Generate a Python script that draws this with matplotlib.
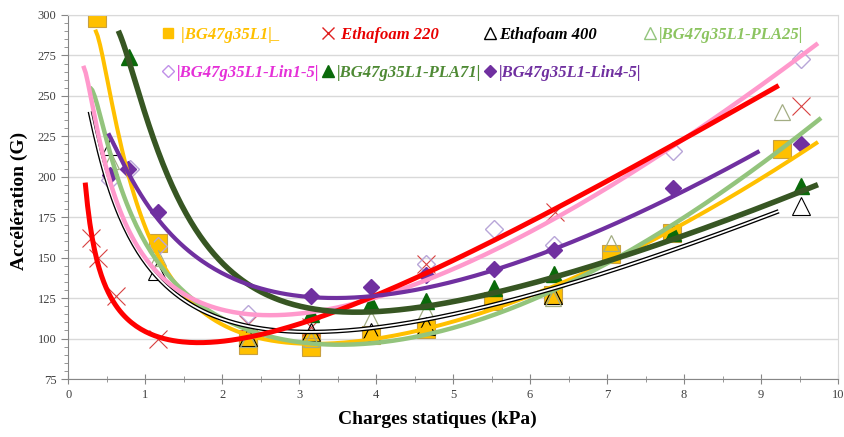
import numpy as np
import matplotlib.pyplot as plt
from matplotlib.lines import Line2D
from matplotlib.ticker import MultipleLocator

# measured points (static load kPa, acceleration G)
bg_x = [0.37, 1.17, 2.33, 2.33, 3.15, 3.15, 3.93, 4.65, 5.52, 6.30, 7.05, 7.85, 9.27]
bg_y = [298, 159, 100, 96, 98, 95, 102, 106, 123, 127, 152, 165, 217]
e220_x = [0.30, 0.38, 0.62, 1.17, 2.33, 3.15, 4.65, 6.32, 9.52]
e220_y = [162, 150, 126, 100, 109, 107, 146, 178, 244]
e400_x = [0.56, 1.15, 2.33, 3.15, 3.93, 4.65, 6.30, 9.52]
e400_y = [219, 142, 101, 104, 104, 108, 127, 182]
pla25_x = [0.56, 1.17, 2.33, 3.15, 3.93, 4.65, 6.30, 7.05, 9.27]
pla25_y = [210, 150, 100, 100, 112, 117, 125, 159, 240]
lin1_x = [0.54, 0.80, 1.17, 2.33, 4.65, 5.53, 6.31, 7.86, 9.52]
lin1_y = [198, 205, 157, 115, 146, 168, 158, 216, 273]
pla71_x = [0.79, 3.15, 3.93, 4.65, 5.53, 6.31, 7.86, 9.52]
pla71_y = [274, 115, 122, 123, 131, 140, 165, 194]
lin4_x = [0.54, 0.78, 1.17, 3.15, 3.93, 4.65, 5.53, 6.31, 7.86, 9.52]
lin4_y = [201, 205, 178, 126, 132, 139, 143, 155, 193, 220]

# trend curves
bg_tx = [0.35, 0.5, 0.65, 0.76, 0.87, 1.06, 1.3, 1.5, 2.0, 2.36, 3.0, 3.66, 4.31, 5.35, 6.0, 7.07, 7.86, 8.46, 8.9, 9.29, 9.74]
bg_ty = [292, 258, 227, 208, 188, 161, 140, 127, 108, 101, 96.5, 97.5, 103, 118, 128, 151, 165, 178, 193, 208, 227]
e220_tx = [0.22, 0.32, 0.45, 0.61, 0.89, 1.32, 1.71, 2.36, 3.0, 4.05, 4.31, 5.35, 6.39, 6.56, 8.72, 9.23]
e220_ty = [196, 161, 136, 120, 107, 100, 99, 101, 107, 127, 133, 159, 181, 186, 243, 256]
e400_tx = [0.28, 0.4, 0.52, 0.74, 1.06, 1.62, 2.0, 2.36, 3.0, 3.66, 4.31, 5.35, 6.56, 7.68, 8.72, 9.23]
e400_ty = [240, 216, 196, 167, 142, 123, 113, 107.5, 102.5, 103.5, 109, 120, 136, 151, 169, 179]
pla25_tx = [0.28, 0.4, 0.54, 0.7, 0.82, 1.0, 1.2, 1.5, 2.0, 2.5, 3.0, 3.5, 4.05, 5.35, 6.0, 7.07, 7.86, 8.46, 8.72, 9.29, 9.78]
pla25_ty = [257, 236, 215, 192, 180, 163, 145, 126, 108, 100, 97, 97.5, 102, 117, 127, 148.6, 162, 183, 193, 221, 245]
lin1_tx = [0.195, 0.32, 0.45, 0.6, 0.8, 1.06, 1.5, 2.0, 2.36, 3.0, 3.5, 4.13, 5.35, 6.39, 7.86, 8.72, 9.74]
lin1_ty = [269, 241, 214, 190, 166, 146, 127, 117, 113.5, 116, 119, 129, 153, 176, 217, 242, 287]
pla71_tx = [0.65, 0.79, 1.0, 1.2, 1.5, 1.75, 2.0, 2.36, 3.0, 3.66, 4.05, 4.31, 5.35, 6.39, 8.46, 8.72, 9.74]
pla71_ty = [290, 272, 238, 212, 180, 160, 147, 133, 121, 117, 116, 116.5, 127, 139, 172, 176, 195]
lin4_tx = [0.52, 0.7, 1.02, 1.15, 1.71, 2.36, 3.01, 3.66, 4.05, 4.31, 5.35, 6.39, 6.56, 8.72, 8.98]
lin4_ty = [228, 206, 186, 177, 147, 130, 126, 126, 129, 131, 138, 156, 159, 208, 217.6]

labels = [' |BG47g35L1|_', ' Ethafoam 220', 'Ethafoam 400', '|BG47g35L1-PLA25|',
          '|BG47g35L1-Lin1-5|', '|BG47g35L1-PLA71|', '|BG47g35L1-Lin4-5|']
text_colors = ['#FFC000', '#E80000', 'black', '#8CC460', '#E530D8', '#4F8A35', '#7030A0']


def trend(ax, tx, ty, color, lw, z, deg=5):
    # smooth trendline through the read curve, fitted in ln(x)
    lx = np.log(tx)
    c = np.polyfit(lx, ty, deg)
    xx = np.linspace(min(tx), max(tx), 300)
    ax.plot(xx, np.polyval(c, np.log(xx)), color=color, lw=lw, zorder=z,
            solid_capstyle='butt')
    return xx, np.polyval(c, np.log(xx))


fig = plt.figure(figsize=(8.45, 4.37), dpi=100)
ax = fig.add_axes([0.0808, 0.1327, 0.9109, 0.833])

# markers
ax.plot(bg_x, bg_y, 's', ms=13, mfc='#FFC000', mec='#C8A040', mew=0.8, zorder=2)
ax.plot(e220_x, e220_y, 'x', ms=13, color='#D84040', mew=0.8, zorder=2)
ax.plot(e400_x, e400_y, '^', ms=13, mfc='none', mec='black', mew=0.8, zorder=2)
ax.plot(pla25_x, pla25_y, '^', ms=12, mfc='none', mec='#A3AD84', mew=0.9, zorder=2)
ax.plot(lin1_x, lin1_y, 'D', ms=9, mfc='none', mec='#B8A6D8', mew=1.0, zorder=2)
ax.plot(pla71_x, pla71_y, '^', ms=11, color='#0A6A0A', zorder=2)
ax.plot(lin4_x, lin4_y, 'D', ms=8.5, color='#7030A0', zorder=2)

# trendlines
trend(ax, bg_tx, bg_ty, '#FFC000', 2.9, 3)
trend(ax, pla25_tx, pla25_ty, '#93C47D', 3.2, 3.1)
xx, yy = trend(ax, e400_tx, e400_ty, 'black', 3.2, 3.2)
ax.plot(xx, yy, color='white', lw=1.3, zorder=3.25)
trend(ax, lin1_tx, lin1_ty, '#FF99CC', 3.2, 3.3)
trend(ax, e220_tx, e220_ty, '#FF0000', 3.6, 3.4)
trend(ax, pla71_tx, pla71_ty, '#375623', 4.0, 3.5)
trend(ax, lin4_tx, lin4_ty, '#7030A0', 3.0, 3.6)

ax.set_xlim(0, 10)
ax.set_ylim(75, 300)
ax.xaxis.set_major_locator(MultipleLocator(1))
ax.xaxis.set_minor_locator(MultipleLocator(0.5))
ax.yaxis.set_major_locator(MultipleLocator(25))
ax.yaxis.set_minor_locator(MultipleLocator(5))
ax.grid(axis='y', color='#D9D9D9', lw=1.0, zorder=0)
ax.set_axisbelow(True)

for s in ['left', 'bottom']:
    ax.spines[s].set_color('#868686')
for s in ['top', 'right']:
    ax.spines[s].set_color('#D9D9D9')
ax.tick_params(axis='y', which='major', direction='out', length=5, color='#868686')
ax.tick_params(axis='y', which='minor', direction='out', length=3, color='#868686')
ax.tick_params(axis='x', which='major', direction='inout', length=7, color='#868686')
ax.tick_params(axis='x', which='minor', direction='inout', length=5, color='#868686')
for lab in ax.get_xticklabels() + ax.get_yticklabels():
    lab.set_family('Liberation Serif')
    lab.set_fontsize(9)
    lab.set_color('#404040')

ax.set_xlabel('Charges statiques (kPa)', family='Liberation Serif', weight='bold', fontsize=14)
ax.set_ylabel('Accélération (G)', family='Liberation Serif', weight='bold', fontsize=14)
ax.xaxis.set_label_coords(0.48, -0.088)
ax.yaxis.set_label_coords(-0.052, 0.49)

# legend: markers only, two rows
h = [
    Line2D([], [], ls='none', marker='s', ms=7, mfc='#FFC000', mec='#FFC000'),
    Line2D([], [], ls='none', marker='x', ms=9, color='#E02020', mew=1.0),
    Line2D([], [], ls='none', marker='^', ms=9, mfc='none', mec='black', mew=1.0),
    Line2D([], [], ls='none', marker='^', ms=9, mfc='none', mec='#93C47D', mew=1.0),
    Line2D([], [], ls='none', marker='D', ms=6, mfc='none', mec='#C090E8', mew=1.0),
    Line2D([], [], ls='none', marker='^', ms=9, color='#0A6A0A'),
    Line2D([], [], ls='none', marker='D', ms=6, color='#7030A0'),
]
order = [0, 4, 1, 5, 2, 6, 3]
leg = ax.legend([h[i] for i in order], [labels[i] for i in order],
                labelcolor=[text_colors[i] for i in order],
                ncol=4, loc='upper left', bbox_to_anchor=(161 / 845, 1 - 27 / 437),
                bbox_transform=fig.transFigure, frameon=False,
                prop={'family': 'Liberation Serif', 'weight': 'bold', 'style': 'italic', 'size': 12},
                handlelength=0.8, handletextpad=0.15, columnspacing=0.1,
                labelspacing=1.3, borderpad=0, borderaxespad=0)
leg.set_zorder(5)

fig.savefig('out.png', dpi=100)
